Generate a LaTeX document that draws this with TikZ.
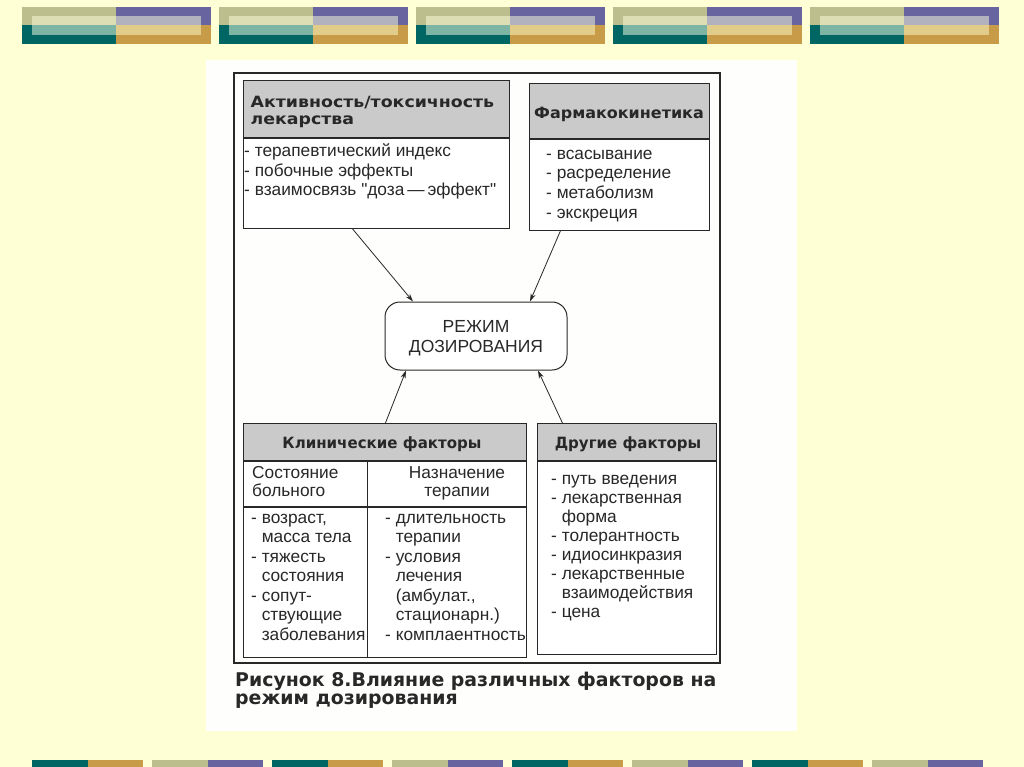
\documentclass[tikz,border=0pt]{standalone}
\usepackage{fontspec}
\setmainfont{Liberation Sans}[Ligatures=TeXOff]
\newfontfamily\hdfont{DejaVu Sans}
\usetikzlibrary{arrows.meta}
\definecolor{bgy}{RGB}{255,255,214}
\definecolor{paper}{RGB}{254,254,252}
\definecolor{khk}{RGB}{189,190,142}
\definecolor{prp}{RGB}{104,100,160}
\definecolor{tel}{RGB}{0,102,99}
\definecolor{gld}{RGB}{200,155,72}
\definecolor{ikhk}{RGB}{222,222,180}
\definecolor{iprp}{RGB}{178,178,190}
\definecolor{itel}{RGB}{126,180,164}
\definecolor{igld}{RGB}{226,204,138}
\definecolor{hdrgray}{RGB}{202,202,202}
\definecolor{ink}{RGB}{40,40,40}
\newcommand\bodyfs[1]{\fontsize{17.3}{#1}\selectfont}
\newcommand\ind{\hphantom{- }}
\begin{document}
\begin{tikzpicture}[x=1pt,y=-1pt,
  hdrbox/.style={draw=ink, line width=0.9pt, fill=hdrgray, inner sep=0, anchor=north west},
  bodybox/.style={draw=ink, line width=0.9pt, fill=white, inner sep=0, anchor=north},
  frame/.style={draw=ink, line width=1.4pt},
  txt/.style={inner sep=0, anchor=base west, text=ink},
  txtc/.style={inner sep=0, anchor=base, text=ink},
  hfont/.style={font=\hdfont\bfseries\fontsize{15.5}{17}\selectfont},
  arr/.style={draw=ink, line width=0.8pt, -{Stealth[length=8pt,width=5pt]}},
  center/.style={draw=ink, line width=1pt, fill=white, rounded corners=15pt, inner sep=0, minimum width=182pt, minimum height=68pt}]
\useasboundingbox (0,0) rectangle (1024,767);
\fill[bgy] (0,0) rectangle (1024,767);
% top bars
\foreach \i in {0,...,4}{
  \pgfmathsetmacro\xa{22+197*\i}
  \fill[khk] (\xa,6.7) rectangle (\xa+94.3,25);
  \fill[prp] (\xa+94.3,6.7) rectangle (\xa+189,25);
  \fill[tel] (\xa,25) rectangle (\xa+94.3,44);
  \fill[gld] (\xa+94.3,25) rectangle (\xa+189,44);
  \fill[ikhk] (\xa+9.7,15.7) rectangle (\xa+94.3,25);
  \fill[iprp] (\xa+94.3,15.7) rectangle (\xa+179.3,25);
  \fill[itel] (\xa+9.7,25) rectangle (\xa+94.3,34.7);
  \fill[igld] (\xa+94.3,25) rectangle (\xa+179.3,34.7);
}
% bottom bars
\foreach \i in {0,...,7}{
  \pgfmathsetmacro\xb{32+120*\i}
  \pgfmathtruncatemacro\odd{mod(\i,2)}
  \ifnum\odd=0
    \fill[tel] (\xb,760) rectangle (\xb+55.5,767);
    \fill[gld] (\xb+55.5,760) rectangle (\xb+111,767);
  \else
    \fill[khk] (\xb,760) rectangle (\xb+55.5,767);
    \fill[prp] (\xb+55.5,760) rectangle (\xb+111,767);
  \fi
}
% paper
\fill[paper] (206,60) rectangle (797,731);
\draw[frame] (234,73) rectangle (720,663);
% box 1
\node[hdrbox, minimum width=266pt, minimum height=57pt] (b1h) at (243,80) {};
\node[bodybox, minimum width=266pt, minimum height=90pt] (b1b) at (b1h.south) {};
\node[txt, hfont] (b1ht) at (250.5,107.7) {\scalebox{1.12}[1]{\begin{tabular}[t]{@{}l@{}}Активность/токсичность\\лекарства\end{tabular}}};
\node[txt, font=\bodyfs{19.5}] (b1t) at (244,157) {\begin{tabular}[t]{@{}l@{}}- терапевтический индекс\\- побочные эффекты\\- взаимосвязь "доза\,—\,эффект"\end{tabular}};
% box 2
\node[hdrbox, minimum width=180pt, minimum height=55pt] (b2h) at (529,83) {};
\node[bodybox, minimum width=180pt, minimum height=91pt] (b2b) at (b2h.south) {};
\node[txtc, hfont] (b2ht) at (619,118.3) {\scalebox{1.03}[1]{Фармакокинетика}};
\node[txt, font=\bodyfs{19.7}] (b2t) at (546,159.3) {\begin{tabular}[t]{@{}l@{}}- всасывание\\- расределение\\- метаболизм\\- экскреция\end{tabular}};
% center
\node[center] (c) at (476,336) {};
\node[txtc, font=\fontsize{17.5}{20}\selectfont] (ct) at (476,332.7) {\begin{tabular}[t]{@{}c@{}}РЕЖИМ\\ДОЗИРОВАНИЯ\end{tabular}};
% box 3
\node[hdrbox, minimum width=283pt, minimum height=37pt] (b3h) at (243,423) {};
\node[bodybox, minimum width=283pt, minimum height=45pt] (b3s) at (b3h.south) {};
\node[bodybox, minimum width=283pt, minimum height=150pt] (b3b) at (b3s.south) {};
\draw[draw=ink, line width=0.9pt] ([xshift=-17.5pt]b3s.north) -- ([xshift=-17.5pt]b3b.south);
\node[txtc, hfont] (b3ht) at (382,448.5) {\scalebox{0.97}[1]{Клинические факторы}};
\node[txt, font=\bodyfs{18.4}] (b3sl) at (252,478.3) {\begin{tabular}[t]{@{}l@{}}Состояние\\больного\end{tabular}};
\node[txtc, font=\bodyfs{18.4}] (b3sr) at (457,478.3) {\begin{tabular}[t]{@{}c@{}}Назначение\\терапии\end{tabular}};
\node[txt, font=\bodyfs{19.45}] (b3l) at (251,523.3) {\begin{tabular}[t]{@{}l@{}}- возраст,\\\ind масса тела\\- тяжесть\\\ind состояния\\- сопут-\\\ind ствующие\\\ind заболевания\end{tabular}};
\node[txt, font=\bodyfs{19.45}] (b3r) at (385,523.3) {\begin{tabular}[t]{@{}l@{}}- длительность\\\ind терапии\\- условия\\\ind лечения\\\ind (амбулат.,\\\ind стационарн.)\\- комплаентность\end{tabular}};
% box 4
\node[hdrbox, minimum width=179pt, minimum height=37pt] (b4h) at (537,423) {};
\node[bodybox, minimum width=179pt, minimum height=193pt] (b4b) at (b4h.south) {};
\node[txtc, hfont] (b4ht) at (628,448.5) {\scalebox{0.97}[1]{Другие факторы}};
\node[txt, font=\bodyfs{19.05}] (b4t) at (551,484) {\begin{tabular}[t]{@{}l@{}}- путь введения\\- лекарственная\\\ind форма\\- толерантность\\- идиосинкразия\\- лекарственные\\\ind взаимодействия\\- цена\end{tabular}};
% arrows
\draw[arr] ([xshift=-24pt]b1b.south) -- ([xshift=-63pt]c.north);
\draw[arr] ([xshift=-59pt]b2b.south) -- ([xshift=54pt]c.north);
\draw[arr] ([xshift=0.5pt]b3h.north) -- ([xshift=-70pt]c.south);
\draw[arr] ([xshift=-64.5pt]b4h.north) -- ([xshift=62pt]c.south);
% caption
\node[txt, font=\hdfont\bfseries\fontsize{18.9}{18}\selectfont] (cap) at (235,686) {\begin{tabular}[t]{@{}l@{}}Рисунок 8.Влияние различных факторов на\\режим дозирования\end{tabular}};
\end{tikzpicture}
\end{document}
